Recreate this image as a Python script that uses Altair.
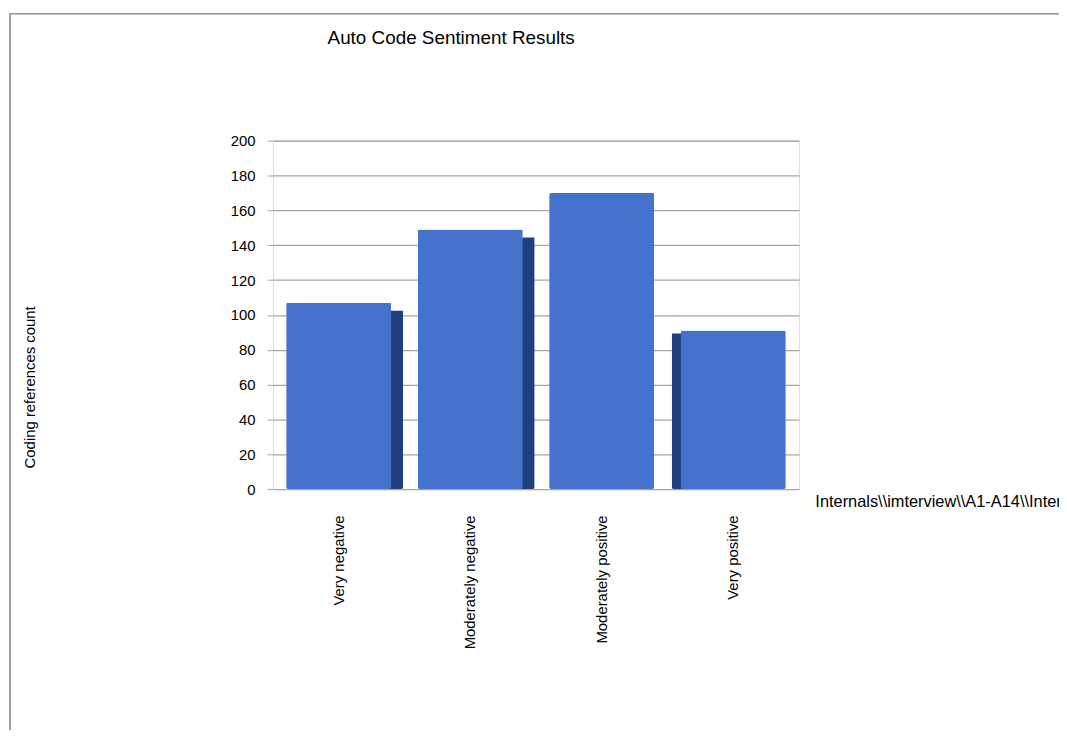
import altair as alt
import pandas as pd

categories = ["Very negative", "Moderately negative", "Moderately positive", "Very positive"]
counts = [107, 149, 170, 91]
side_right = ["Very negative", "Moderately negative"]
side_left = ["Very positive"]

df = pd.DataFrame({"category": categories, "count": counts})

FONT = "Liberation Sans"
FRONT = "#4472cc"
SIDE = "#203f7f"

x_enc = alt.X(
    "category:N",
    sort=categories,
    scale=alt.Scale(paddingInner=0.2, paddingOuter=0.1),
    axis=alt.Axis(
        title="Internals\\\\imterview\\\\A1-A14\\\\Interviews",
        titleX=546, titleY=13, titleAlign="left", titleBaseline="middle",
        titleFontSize=16.5, titleFontWeight="normal", titleFont=FONT, titleColor="#000000",
        labelAngle=-90, labelFontSize=15, labelFont=FONT, labelColor="#000000",
        labelPadding=26, ticks=False, domain=False, grid=False,
    ),
)
y_enc = alt.Y(
    "count:Q",
    scale=alt.Scale(domain=[0, 200]),
    axis=alt.Axis(
        title="Coding references count",
        titleX=-245, titleY=248, titleAngle=-90, titleAlign="center", titleBaseline="middle",
        titleFontSize=15, titleFontWeight="normal", titleFont=FONT, titleColor="#000000",
        values=list(range(0, 201, 20)), labelFontSize=15, labelFont=FONT, labelColor="#000000",
        labelPadding=12, tickSize=6, tickColor="#a6a6a6", domain=False,
        grid=True, gridColor="#a6a6a6", gridWidth=1.3,
    ),
)

base = alt.Chart(df).encode(x=x_enc, y=y_enc)

side_r = base.transform_filter(
    alt.FieldOneOfPredicate(field="category", oneOf=side_right)
).mark_bar(color=SIDE, xOffset=12, yOffset=8, y2Offset=-8, cornerRadius=2)

side_l = base.transform_filter(
    alt.FieldOneOfPredicate(field="category", oneOf=side_left)
).mark_bar(color=SIDE, xOffset=-9, yOffset=3, y2Offset=-3, cornerRadius=2)

front = base.mark_bar(color=FRONT, cornerRadius=2)

border_top = alt.Chart(df).mark_rule(color="#9a9a9a", strokeWidth=1).encode(
    x=alt.value(-265), x2=alt.value(800), y=alt.value(-128)
)
border_left = alt.Chart(df).mark_rule(color="#9a9a9a", strokeWidth=1).encode(
    x=alt.value(-265), y=alt.value(-128), y2=alt.value(600)
)

chart = alt.layer(border_top, border_left, side_r, side_l, front).properties(
    width=530,
    height=351,
    title=alt.TitleParams(
        "Auto Code Sentiment Results",
        font=FONT, fontSize=19, fontWeight="normal", color="#000000",
        anchor="start", frame="group", dx=55, offset=0, dy=54, baseline="bottom",
    ),
    padding={"left": 267, "top": 131, "right": 262, "bottom": 240},
    autosize=alt.AutoSizeParams(type="none"),
).configure_view(stroke=None).configure(background="white")

chart.save("out.html", embed_options={"renderer": "svg", "actions": False})
